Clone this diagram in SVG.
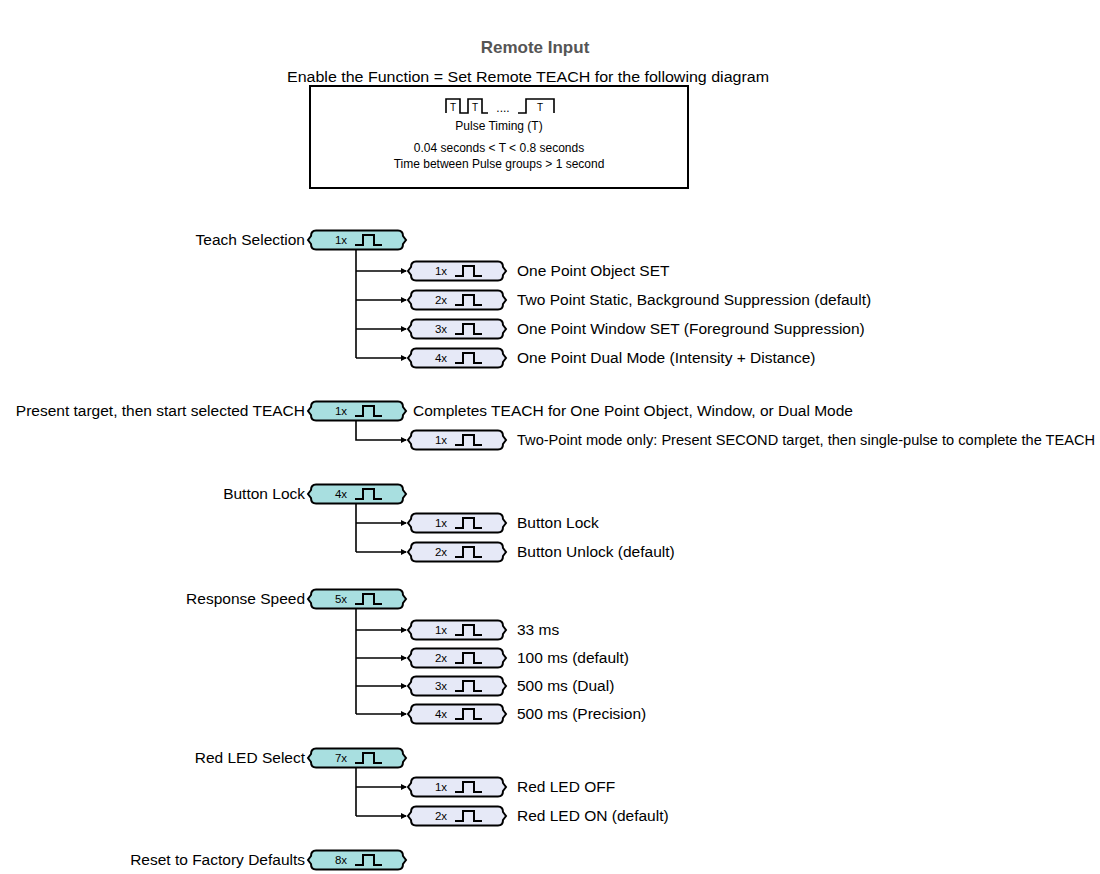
<svg xmlns="http://www.w3.org/2000/svg" xmlns:xlink="http://www.w3.org/1999/xlink" width="1100" height="874" viewBox="0 0 1100 874">
  <style>
    text { font-family: "Liberation Sans", Arial, sans-serif; fill: #000; }
    .title { font-size: 17px; font-weight: bold; fill: #555; }
    .sub { font-size: 14px; }
    .box { font-size: 12px; }
    .lbl { font-size: 15.5px; }
    .cnt { font-size: 11.5px; }
    .parent { fill: #a8dfe0; stroke: #000; stroke-width: 2; }
    .child { fill: #e6e9f7; stroke: #000; stroke-width: 2; }
    .pulse { fill: none; stroke: #000; stroke-width: 2; }
    .wire { fill: none; stroke: #000; stroke-width: 1.6; }
    .branch { marker-end: url(#arr); }
  </style>
  <defs>
    <!-- pill outline in local coordinates, vertical centre at 0 -->
    <path id="pill" d="M8,-9.5 H90 Q95,-9.5 95,-4 L98,0 L95,4 Q95,9.5 90,9.5 H8 Q3,9.5 3,4 L0,0 L3,-4 Q3,-9.5 8,-9.5 Z"/>
    <path id="pulse" d="M47,5 H55 V-5 H66 V5 H74"/>
    <marker id="arr" markerWidth="6" markerHeight="6" refX="5" refY="3" orient="auto" markerUnits="userSpaceOnUse">
      <path d="M0,0 L6,3 L0,6 Z" fill="#000"/>
    </marker>
  </defs>

  <rect width="1100" height="874" fill="#fff"/>

  <text class="title" x="535" y="53" text-anchor="middle">Remote Input</text>
  <text class="sub" x="528" y="82" text-anchor="middle" textLength="482" lengthAdjust="spacingAndGlyphs">Enable the Function = Set Remote TEACH for the following diagram</text>

  <!-- pulse timing box -->
  <g id="timing">
    <rect x="310" y="86" width="378" height="102" fill="#fff" stroke="#000" stroke-width="2"/>
    <path class="wire" d="M446,113 V99 H460 V113 H468 V99 H482 V113 H488"/>
    <text x="453" y="111" font-size="10" text-anchor="middle">T</text>
    <text x="475" y="111" font-size="10" text-anchor="middle">T</text>
    <text x="503" y="112" font-size="12" text-anchor="middle">....</text>
    <path class="wire" d="M518,113 H526 V99 H554 V113"/>
    <text x="540" y="111" font-size="10" text-anchor="middle">T</text>
    <text class="box" x="499" y="130" text-anchor="middle">Pulse Timing (T)</text>
    <text class="box" x="499" y="152" text-anchor="middle">0.04 seconds &lt; T &lt; 0.8 seconds</text>
    <text class="box" x="499" y="168" text-anchor="middle">Time between Pulse groups &gt; 1 second</text>
  </g>

  <!-- connectors: trunks drop from each parent pill, branches end in arrows -->
  <g id="connectors" class="wire">
    <path d="M356,250 V358"/>
    <path class="branch" d="M356,271 H406"/>
    <path class="branch" d="M356,300 H406"/>
    <path class="branch" d="M356,329 H406"/>
    <path class="branch" d="M356,358 H406"/>
    <path class="branch" d="M356,421 V440 H406"/>
    <path d="M356,504 V552"/>
    <path class="branch" d="M356,523 H406"/>
    <path class="branch" d="M356,552 H406"/>
    <path d="M356,609 V714"/>
    <path class="branch" d="M356,630 H406"/>
    <path class="branch" d="M356,658 H406"/>
    <path class="branch" d="M356,686 H406"/>
    <path class="branch" d="M356,714 H406"/>
    <path d="M356,768 V816"/>
    <path class="branch" d="M356,787 H406"/>
    <path class="branch" d="M356,816 H406"/>
  </g>

  <!-- Teach Selection -->
  <g id="teach-selection" transform="translate(308,240)">
    <use xlink:href="#pill" class="parent"/>
    <use xlink:href="#pulse" class="pulse"/>
    <text class="cnt" x="33" y="4" text-anchor="middle">1x</text>
    <text class="lbl" x="-3" y="5" text-anchor="end">Teach Selection</text>
  </g>
  <g id="teach-1" transform="translate(408,271)">
    <use xlink:href="#pill" class="child"/><use xlink:href="#pulse" class="pulse"/>
    <text class="cnt" x="33" y="4" text-anchor="middle">1x</text>
    <text class="lbl" x="109" y="5">One Point Object SET</text>
  </g>
  <g id="teach-2" transform="translate(408,300)">
    <use xlink:href="#pill" class="child"/><use xlink:href="#pulse" class="pulse"/>
    <text class="cnt" x="33" y="4" text-anchor="middle">2x</text>
    <text class="lbl" x="109" y="5">Two Point Static, Background Suppression (default)</text>
  </g>
  <g id="teach-3" transform="translate(408,329)">
    <use xlink:href="#pill" class="child"/><use xlink:href="#pulse" class="pulse"/>
    <text class="cnt" x="33" y="4" text-anchor="middle">3x</text>
    <text class="lbl" x="109" y="5">One Point Window SET (Foreground Suppression)</text>
  </g>
  <g id="teach-4" transform="translate(408,358)">
    <use xlink:href="#pill" class="child"/><use xlink:href="#pulse" class="pulse"/>
    <text class="cnt" x="33" y="4" text-anchor="middle">4x</text>
    <text class="lbl" x="109" y="5">One Point Dual Mode (Intensity + Distance)</text>
  </g>

  <!-- Present target -->
  <g id="present-target" transform="translate(308,411)">
    <use xlink:href="#pill" class="parent"/><use xlink:href="#pulse" class="pulse"/>
    <text class="cnt" x="33" y="4" text-anchor="middle">1x</text>
    <text class="lbl" x="-3" y="5" text-anchor="end">Present target, then start selected TEACH</text>
    <text class="lbl" x="105" y="5">Completes TEACH for One Point Object, Window, or Dual Mode</text>
  </g>
  <g id="present-second" transform="translate(408,440)">
    <use xlink:href="#pill" class="child"/><use xlink:href="#pulse" class="pulse"/>
    <text class="cnt" x="33" y="4" text-anchor="middle">1x</text>
    <text x="109" y="5" font-size="14.6">Two-Point mode only: Present SECOND target, then single-pulse to complete the TEACH</text>
  </g>

  <!-- Button Lock -->
  <g id="button-lock" transform="translate(308,494)">
    <use xlink:href="#pill" class="parent"/><use xlink:href="#pulse" class="pulse"/>
    <text class="cnt" x="33" y="4" text-anchor="middle">4x</text>
    <text class="lbl" x="-3" y="5" text-anchor="end">Button Lock</text>
  </g>
  <g id="button-lock-1" transform="translate(408,523)">
    <use xlink:href="#pill" class="child"/><use xlink:href="#pulse" class="pulse"/>
    <text class="cnt" x="33" y="4" text-anchor="middle">1x</text>
    <text class="lbl" x="109" y="5">Button Lock</text>
  </g>
  <g id="button-lock-2" transform="translate(408,552)">
    <use xlink:href="#pill" class="child"/><use xlink:href="#pulse" class="pulse"/>
    <text class="cnt" x="33" y="4" text-anchor="middle">2x</text>
    <text class="lbl" x="109" y="5">Button Unlock (default)</text>
  </g>

  <!-- Response Speed -->
  <g id="response-speed" transform="translate(308,599)">
    <use xlink:href="#pill" class="parent"/><use xlink:href="#pulse" class="pulse"/>
    <text class="cnt" x="33" y="4" text-anchor="middle">5x</text>
    <text class="lbl" x="-3" y="5" text-anchor="end">Response Speed</text>
  </g>
  <g id="speed-1" transform="translate(408,630)">
    <use xlink:href="#pill" class="child"/><use xlink:href="#pulse" class="pulse"/>
    <text class="cnt" x="33" y="4" text-anchor="middle">1x</text>
    <text class="lbl" x="109" y="5">33 ms</text>
  </g>
  <g id="speed-2" transform="translate(408,658)">
    <use xlink:href="#pill" class="child"/><use xlink:href="#pulse" class="pulse"/>
    <text class="cnt" x="33" y="4" text-anchor="middle">2x</text>
    <text class="lbl" x="109" y="5">100 ms (default)</text>
  </g>
  <g id="speed-3" transform="translate(408,686)">
    <use xlink:href="#pill" class="child"/><use xlink:href="#pulse" class="pulse"/>
    <text class="cnt" x="33" y="4" text-anchor="middle">3x</text>
    <text class="lbl" x="109" y="5">500 ms (Dual)</text>
  </g>
  <g id="speed-4" transform="translate(408,714)">
    <use xlink:href="#pill" class="child"/><use xlink:href="#pulse" class="pulse"/>
    <text class="cnt" x="33" y="4" text-anchor="middle">4x</text>
    <text class="lbl" x="109" y="5">500 ms (Precision)</text>
  </g>

  <!-- Red LED Select -->
  <g id="red-led" transform="translate(308,758)">
    <use xlink:href="#pill" class="parent"/><use xlink:href="#pulse" class="pulse"/>
    <text class="cnt" x="33" y="4" text-anchor="middle">7x</text>
    <text class="lbl" x="-3" y="5" text-anchor="end">Red LED Select</text>
  </g>
  <g id="red-led-1" transform="translate(408,787)">
    <use xlink:href="#pill" class="child"/><use xlink:href="#pulse" class="pulse"/>
    <text class="cnt" x="33" y="4" text-anchor="middle">1x</text>
    <text class="lbl" x="109" y="5">Red LED OFF</text>
  </g>
  <g id="red-led-2" transform="translate(408,816)">
    <use xlink:href="#pill" class="child"/><use xlink:href="#pulse" class="pulse"/>
    <text class="cnt" x="33" y="4" text-anchor="middle">2x</text>
    <text class="lbl" x="109" y="5">Red LED ON (default)</text>
  </g>

  <!-- Reset -->
  <g id="factory-reset" transform="translate(308,860)">
    <use xlink:href="#pill" class="parent"/><use xlink:href="#pulse" class="pulse"/>
    <text class="cnt" x="33" y="4" text-anchor="middle">8x</text>
    <text class="lbl" x="-3" y="5" text-anchor="end">Reset to Factory Defaults</text>
  </g>
</svg>
